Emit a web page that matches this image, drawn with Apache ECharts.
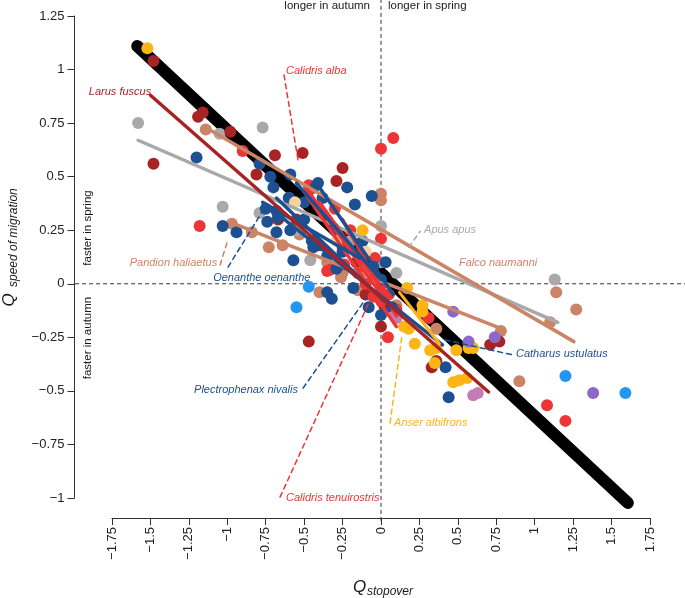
<!DOCTYPE html>
<html><head><meta charset="utf-8">
<script src="https://cdn.jsdelivr.net/npm/echarts@6/dist/echarts.min.js"></script>
<style>html,body{margin:0;padding:0;background:#fff}#c{width:685px;height:598px}</style>
</head><body><div id="c"></div><script>
// ---- tick values ----
const xTicks = [-1.75,-1.5,-1.25,-1,-0.75,-0.5,-0.25,0,0.25,0.5,0.75,1,1.25,1.5,1.75];
const yTicks = [-1,-0.75,-0.5,-0.25,0,0.25,0.5,0.75,1,1.25];

// ---- points (Q_stopover, Q_speed) by colour group ----
const ptsTan = [[-1.14,0.72],[-0.97,0.28],[-0.84,0.24],[-0.73,0.17],[-0.64,0.18],[-0.53,0.23],[-0.4,-0.04],[-0.25,0.05],[-0.26,0.03],[0.0,0.42],[0.0,0.39],[1.14,-0.04],[1.27,-0.12],[1.1,-0.18],[0.78,-0.22],[0.36,-0.21],[0.9,-0.455],[-0.15,-0.03],[0.1,-0.1],[-0.35,0.1]];
const ptsGrey = [[-1.58,0.75],[-0.77,0.73],[-1.05,0.70],[-1.03,0.36],[-0.79,0.33],[-0.46,0.11],[1.13,0.02],[0.0,0.27],[0.0,0.1],[-0.6,0.4],[-0.2,0.2],[0.1,0.05],[-0.55,0.25]];
const ptsDarkRed = [[-1.48,1.04],[-1.48,0.56],[-1.19,0.78],[-1.16,0.80],[-0.98,0.71],[-0.69,0.6],[-0.51,0.61],[-0.81,0.51],[-0.25,0.54],[-0.29,0.48],[-0.67,0.3],[-0.47,-0.27],[0.0,-0.2],[-0.16,0.1],[0.36,-0.36],[0.33,-0.39],[0.71,-0.285],[0.77,-0.27],[-0.55,0.3],[-0.4,0.18],[-0.1,-0.05],[0.02,-0.1]];
const ptsRed = [[0.08,0.68],[0.0,0.63],[-1.18,0.27],[-0.9,0.62],[-0.47,0.46],[-0.46,0.44],[-0.33,0.065],[-0.25,0.17],[-0.35,0.06],[-0.24,0.09],[0.0,0.21],[-0.04,0.12],[0.0,-0.01],[0.045,-0.25],[0.0,-0.08],[0.31,-0.16],[1.08,-0.567],[1.2,-0.64],[-0.3,0.35],[-0.2,0.25],[-0.15,0.05],[-0.1,0.0],[0.05,-0.05],[0.1,-0.12],[-0.05,-0.06]];
const ptsBlue = [[-1.2,0.59],[-1.03,0.27],[-0.94,0.24],[-0.79,0.56],[-0.72,0.5],[-0.7,0.45],[-0.59,0.51],[-0.68,0.34],[-0.74,0.29],[-0.68,0.24],[-0.59,0.25],[-0.57,0.11],[-0.44,0.17],[-0.42,0.46],[-0.38,0.4],[-0.22,0.45],[-0.17,0.37],[-0.35,-0.04],[-0.18,-0.02],[-0.41,0.47],[-0.75,0.35],[-0.67,0.31],[-0.45,0.2],[-0.35,0.13],[-0.29,0.07],[-0.32,-0.07],[-0.08,-0.11],[0.0,-0.146],[0.03,0.1],[-0.05,0.08],[0.0,0.02],[0.07,-0.11],[0.44,-0.53],[0.42,-0.39],[-0.5,0.3],[-0.3,0.25],[-0.25,0.15],[-0.6,0.4],[-0.5,0.38],[-0.12,0.2],[-0.06,0.41]];
const ptsYellow = [[-1.52,1.10],[-0.12,0.25],[0.17,-0.02],[0.27,-0.10],[0.27,-0.13],[0.15,-0.20],[0.18,-0.21],[0.22,-0.28],[0.32,-0.31],[0.35,-0.37],[0.49,-0.31],[0.57,-0.30],[0.47,-0.46],[0.51,-0.45],[0.56,-0.44],[0.36,-0.30],[0.6,-0.3]];
const ptsPurple = [[0.47,-0.13],[0.57,-0.27],[0.74,-0.25],[1.38,-0.51]];
const ptsLightBlue = [[1.2,-0.43],[1.59,-0.51],[-0.47,-0.014],[-0.55,-0.11]];
const ptsPink = [[0.6,-0.52],[0.63,-0.51],[0.09,-0.15],[0.1,-0.16]];
const ptsPeach = [[-0.56,0.38],[-0.29,0.2],[-0.1,0.15]];

// ---- regression lines ----
const lineOverall = [[-1.586,1.11],[1.606,-1.023]];
const lineLarus = [[-1.5,0.88],[0.7,-0.505]];
const lineApus = [[-1.58,0.67],[1.15,-0.18]];
const lineFalco = [[-1.14,0.73],[1.255,-0.27]];
const linePandion = [[-0.97,0.284],[0.787,-0.21]];
const linesBlue = [[[-0.75,0.37],[0.4,-0.285]],[[-0.68,0.40],[0.02,-0.08]],[[-0.55,0.47],[0.0,0.02]],[[-0.42,0.47],[0.08,-0.05]],[[-0.77,0.38],[-0.14,0.12]]];
const linesRed = [[[-0.48,0.44],[0.03,-0.08]],[[-0.5,0.43],[0.1,-0.2]],[[-0.4,0.38],[0.0,-0.02]],[[-0.25,0.3],[0.1,-0.15]]];
const lineAnser = [[0.12,-0.04],[0.38,-0.28]];

// ---- reference (zero) lines: [x1, y1, x2, y2] ----
const zeroLines = [[-1.99,0,2.0,0],[0,1.33,0,-1.12]];

// ---- species labels: [text, x, y, align, colourKey] ----
const labels = [
  ['Larus fuscus',-1.495,0.895,'right','darkred'],
  ['Calidris alba',-0.618,0.993,'left','red'],
  ['Pandion haliaetus',-1.066,0.097,'right','tan'],
  ['Oenanthe oenanthe',-1.092,0.027,'left','blue'],
  ['Plectrophenax nivalis',-0.54,-0.495,'right','blue'],
  ['Apus apus',0.28,0.251,'left','grey'],
  ['Falco naumanni',0.507,0.097,'left','tan'],
  ['Catharus ustulatus',0.878,-0.327,'left','blue'],
  ['Anser albifrons',0.085,-0.65,'left','yellow'],
  ['Calidris tenuirostris',-0.618,-1.0,'left','red']
];
const leaders = [
  [[[-0.631,0.975],[-0.54,0.578]],'red'],
  [[[0.18,0.17],[0.255,0.245]],'grey'],
  [[[-1.047,0.088],[-1.0,0.195]],'tan'],
  [[[-0.995,0.078],[-0.774,0.335]],'blue'],
  [[[-0.507,-0.487],[-0.091,-0.062]],'blue'],
  [[[-0.657,-0.996],[-0.072,-0.077]],'red'],
  [[[0.059,-0.65],[0.137,-0.239]],'yellow'],
  [[[0.416,-0.262],[0.858,-0.332]],'blue']
];

const C = {tan:'#CC8466',grey:'#A9A9A9',darkred:'#A82424',red:'#EE3535',blue:'#1C5090',yellow:'#FDB515',purple:'#8B68C9',lightblue:'#2196F3',pink:'#C47CB4',peach:'#F5D3A0'};
const FONT = '"Liberation Sans", Arial, Helvetica, sans-serif';

const series = [];
function lineSeries(data, color, width, dashed, z) {
  series.push({type:'line', data:data, symbol:'none', clip:false, silent:true, z:z||2,
    lineStyle:{color:color, width:width, type: dashed ? [5,4] : 'solid', cap:'round'}});
}
function scatter(data, color) {
  series.push({type:'scatter', data:data, symbolSize:12, clip:false, silent:true, z:3,
    itemStyle:{color:color, opacity:1}});
}
series.push({type:'custom', data:zeroLines, clip:false, silent:true, z:1,
  renderItem:(params, api)=>{
    const a = api.coord([api.value(0), api.value(1)]);
    const b = api.coord([api.value(2), api.value(3)]);
    return {type:'line', shape:{x1:a[0],y1:a[1],x2:b[0],y2:b[1]},
      style:{stroke:'#333', lineWidth:1, lineDash:[4,3]}};
  }});
lineSeries(lineOverall,'#000',12,false,1);
scatter(ptsTan,C.tan);
scatter(ptsGrey,C.grey);
scatter(ptsDarkRed,C.darkred);
scatter(ptsRed,C.red);
scatter(ptsBlue,C.blue);
scatter(ptsYellow,C.yellow);
scatter(ptsPurple,C.purple);
scatter(ptsLightBlue,C.lightblue);
scatter(ptsPink,C.pink);
scatter(ptsPeach,C.peach);
lineSeries(lineApus,C.grey,3.5,false,4);
lineSeries(lineFalco,C.tan,3.5,false,4);
lineSeries(linePandion,C.tan,3.5,false,4);
linesRed.forEach(l=>lineSeries(l,C.red,3.5,false,4));
linesBlue.forEach(l=>lineSeries(l,C.blue,3.5,false,4));
lineSeries(lineAnser,C.yellow,3,false,4);
lineSeries(lineLarus,C.darkred,3.5,false,4);
leaders.forEach(l=>lineSeries(l[0],C[l[1]],1.5,true,4));

const fmt = v => String(Math.round(v*100)/100).replace('-','\u2212');
const chart = echarts.init(document.getElementById('c'), null, {renderer:'canvas'});
chart.setOption({
  animation:false,
  backgroundColor:'#fff',
  grid:{left:112,right:35,top:16,bottom:100,containLabel:false},
  xAxis:{type:'value',min:xTicks[0],max:xTicks[xTicks.length-1],interval:0.25,position:'bottom',offset:20,
    axisLine:{show:true,onZero:false,lineStyle:{color:'#333',width:1}},
    axisTick:{show:true,length:7,lineStyle:{color:'#333'}},
    axisLabel:{rotate:90,fontSize:13,margin:9,color:'#222',fontFamily:FONT,formatter:fmt,showMinLabel:true,showMaxLabel:true},
    splitLine:{show:false}},
  yAxis:{type:'value',min:yTicks[0],max:yTicks[yTicks.length-1],interval:0.25,position:'left',offset:37.5,
    axisLine:{show:true,onZero:false,lineStyle:{color:'#333',width:1}},
    axisTick:{show:true,length:7,lineStyle:{color:'#333'}},
    axisLabel:{fontSize:13,margin:10,color:'#222',fontFamily:FONT,formatter:fmt,showMinLabel:true,showMaxLabel:true},
    splitLine:{show:false}},
  series:series
});

const g = [];
labels.forEach(l=>{
  const p = chart.convertToPixel({xAxisIndex:0,yAxisIndex:0},[l[1],l[2]]);
  g.push({type:'text',x:p[0],y:p[1],z:10,style:{text:l[0],fill:C[l[4]],font:'italic 11px '+FONT,align:l[3],verticalAlign:'middle'}});
});
const TXT = '#1a1a1a';
g.push({type:'text',x:370,y:6,style:{text:'longer in autumn',fill:TXT,font:'11.5px '+FONT,align:'right',verticalAlign:'middle'}});
g.push({type:'text',x:388,y:6,style:{text:'longer in spring',fill:TXT,font:'11.5px '+FONT,align:'left',verticalAlign:'middle'}});
g.push({type:'text',x:88,y:228,rotation:Math.PI/2,style:{text:'faster in spring',fill:TXT,font:'11.5px '+FONT,align:'center',verticalAlign:'middle'}});
g.push({type:'text',x:88,y:338,rotation:Math.PI/2,style:{text:'faster in autumn',fill:TXT,font:'11.5px '+FONT,align:'center',verticalAlign:'middle'}});
g.push({type:'text',x:353,y:587,style:{text:'Q',fill:TXT,font:'italic 17px '+FONT,align:'left',verticalAlign:'middle'}});
g.push({type:'text',x:367,y:592,style:{text:'stopover',fill:TXT,font:'italic 12px '+FONT,align:'left',verticalAlign:'middle'}});
g.push({type:'text',x:9,y:300,rotation:Math.PI/2,style:{text:'Q',fill:TXT,font:'italic 17px '+FONT,align:'center',verticalAlign:'middle'}});
g.push({type:'text',x:14,y:287,rotation:Math.PI/2,style:{text:'speed of migration',fill:TXT,font:'italic 12px '+FONT,align:'left',verticalAlign:'middle'}});
chart.setOption({graphic:g});
</script></body></html>
